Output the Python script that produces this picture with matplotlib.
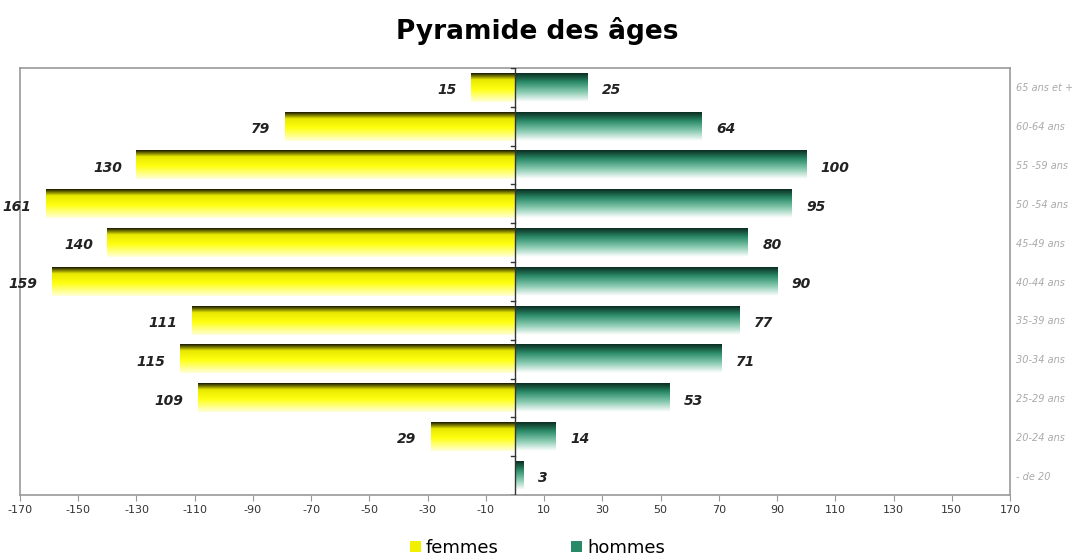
import numpy as np
import matplotlib
matplotlib.use('Agg')
import matplotlib.pyplot as plt
from matplotlib.colors import LinearSegmentedColormap
from matplotlib.patches import Patch

ages = ['- de 20', '20-24 ans', '25-29 ans', '30-34 ans', '35-39 ans', '40-44 ans',
        '45-49 ans', '50 -54 ans', '55 -59 ans', '60-64 ans', '65 ans et +']
femmes = [0, 29, 109, 115, 111, 159, 140, 161, 130, 79, 15]
hommes = [3, 14, 53, 71, 77, 90, 80, 95, 100, 64, 25]
xticks = list(range(-170, 171, 20))

# gradients go top (dark) -> bottom (light)
cmap_f = LinearSegmentedColormap.from_list('f', [(0, '#1a1a00'), (0.22, '#e8e800'),
                                                (0.55, '#ffff10'), (1, '#ffffd8')])
cmap_h = LinearSegmentedColormap.from_list('h', [(0, '#0b2e22'), (0.3, '#2a8a68'),
                                                (0.65, '#88cab0'), (1, '#ffffff')])
grad = np.linspace(0, 1, 64).reshape(-1, 1)

fig = plt.figure(figsize=(10.75, 5.58), dpi=100)
ax = fig.add_axes([20 / 1075, 1 - 495 / 558, 990 / 1075, 427 / 558])

h = 0.74
for i, (f, m) in enumerate(zip(femmes, hommes)):
    y0, y1 = i - h / 2, i + h / 2
    if f > 0:
        ax.imshow(grad, cmap=cmap_f, aspect='auto', extent=(-f, 0, y0, y1),
                  origin='upper', zorder=2)
        ax.text(-f - 5, i - 0.07, str(f), ha='right', va='center',
                fontsize=10, fontweight='bold', style='italic', color='#222222')
    if m > 0:
        ax.imshow(grad, cmap=cmap_h, aspect='auto', extent=(0, m, y0, y1),
                  origin='upper', zorder=2)
        ax.text(m + 5, i - 0.07, str(m), ha='left', va='center',
                fontsize=10, fontweight='bold', style='italic', color='#222222')

ax.set_xlim(-170, 170)
ax.set_ylim(-0.5, len(ages) - 0.5)
ax.set_xticks(xticks)
ax.set_xticklabels([str(t) for t in xticks], fontsize=8, color='#333333')
ax.tick_params(axis='x', length=4, color='#999999')
ax.set_yticks(range(len(ages)))
ax.set_yticklabels(ages, fontsize=7, style='italic', color='#aaaaaa')
ax.yaxis.tick_right()
ax.tick_params(axis='y', length=0, pad=4)
for s in ax.spines.values():
    s.set_color('#999999')
    s.set_linewidth(1.2)

# centre axis line with small ticks
ax.axvline(0, color='#333333', lw=1, zorder=3)
for k in range(len(ages) + 1):
    ax.plot([-1.5, 0], [k - 0.5, k - 0.5], color='#333333', lw=1, zorder=3)

fig.text(0.5, 0.945, 'Pyramide des âges', ha='center', va='center',
         fontsize=19, fontweight='bold')

handles = [Patch(facecolor='#f0f000', edgecolor='none', label='femmes'),
           Patch(facecolor='#2a8a68', edgecolor='none', label='hommes')]
fig.legend(handles=handles, loc='center', bbox_to_anchor=(0.5, 0.018), ncol=2,
           frameon=False, fontsize=13, handlelength=0.6, handleheight=0.6,
           handletextpad=0.3, columnspacing=4)

fig.savefig('out.png', dpi=100)
